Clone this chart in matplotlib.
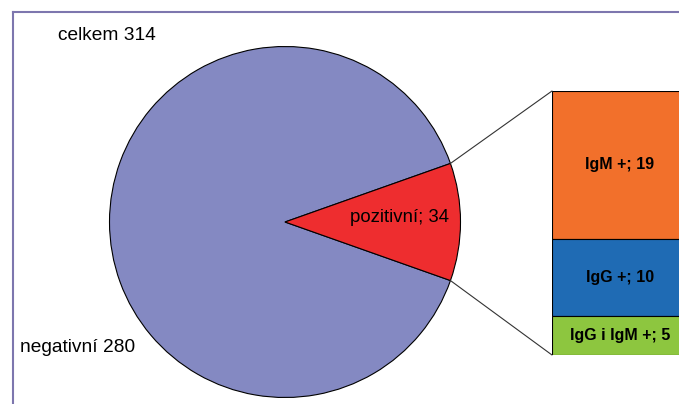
import numpy as np
import matplotlib.pyplot as plt
from matplotlib.patches import ConnectionPatch
from matplotlib.lines import Line2D

plt.rcParams.update({
    "font.family": ["Liberation Sans", "DejaVu Sans"],
})

# data
pie_labels = ["negativní", "pozitivní"]
pie_values = [280, 34]
pie_colors = ["#8489c2", "#ee2d2f"]

bar_labels = ["IgM +", "IgG +", "IgG i IgM +"]
bar_values = [19, 10, 5]
bar_colors = ["#f2702b", "#1f6bb4", "#8dc63f"]

W, H = 679, 404
fig = plt.figure(figsize=(W / 100, H / 100), dpi=100)

# main axes in pixel-like units
ax = fig.add_axes([0, 0, 1, 1])
cx, cy, r = 285, 182, 175.5
red_angle = 360 * pie_values[1] / sum(pie_values)
wedges, _ = ax.pie(pie_values, colors=pie_colors, center=(cx, cy), radius=r,
                   startangle=red_angle / 2, counterclock=True, frame=True,
                   wedgeprops=dict(edgecolor="black", linewidth=0.8))
ax.set_xlim(0, W)
ax.set_ylim(0, H)
ax.set_aspect("equal")
ax.axis("off")

# labels around the pie
ax.text(58, H - 36, f"celkem {sum(pie_values)}", fontsize=13.8, ha="left", va="center")
ax.text(20, H - 347, f"negativní {pie_values[0]}", fontsize=13.8, ha="left", va="center")
ax.text(cx + 0.655 * r, cy + 4, f"{pie_labels[1]}; {pie_values[1]}",
        fontsize=13.4, ha="center", va="center")

# frame lines (left + top)
frame_col = "#7d76ae"
fig.add_artist(Line2D([13 / W, 13 / W], [0, 1 - 12 / H], color=frame_col, lw=1.5))
fig.add_artist(Line2D([13 / W, 1], [1 - 12 / H, 1 - 12 / H], color=frame_col, lw=1.5))

# stacked bar for the positive part
ax2 = fig.add_axes([552 / W, (H - 355) / H, 136 / W, 264 / H])
total = sum(bar_values)
bottoms = total - np.cumsum(bar_values)
for lab, val, col, b in zip(bar_labels, bar_values, bar_colors, bottoms):
    ax2.bar(0, val, bottom=b, width=1, color=col, edgecolor="black", linewidth=0.8)
    ax2.text(0, b + val / 2, f"{lab}; {val}", ha="center", va="center",
             fontsize=11.5, fontweight="bold")
ax2.set_xlim(-0.5, 0.5)
ax2.set_ylim(0, total)
ax2.axis("off")

# connector lines
half = np.deg2rad(red_angle / 2)
for sign, ytarget in [(1, total), (-1, 0)]:
    p = (cx + r * np.cos(sign * half), cy + r * np.sin(sign * half))
    con = ConnectionPatch(xyA=p, coordsA=ax.transData, xyB=(-0.5, ytarget),
                          coordsB=ax2.transData, color="#333333", linewidth=0.8)
    fig.add_artist(con)

fig.savefig("out.png", dpi=100)
